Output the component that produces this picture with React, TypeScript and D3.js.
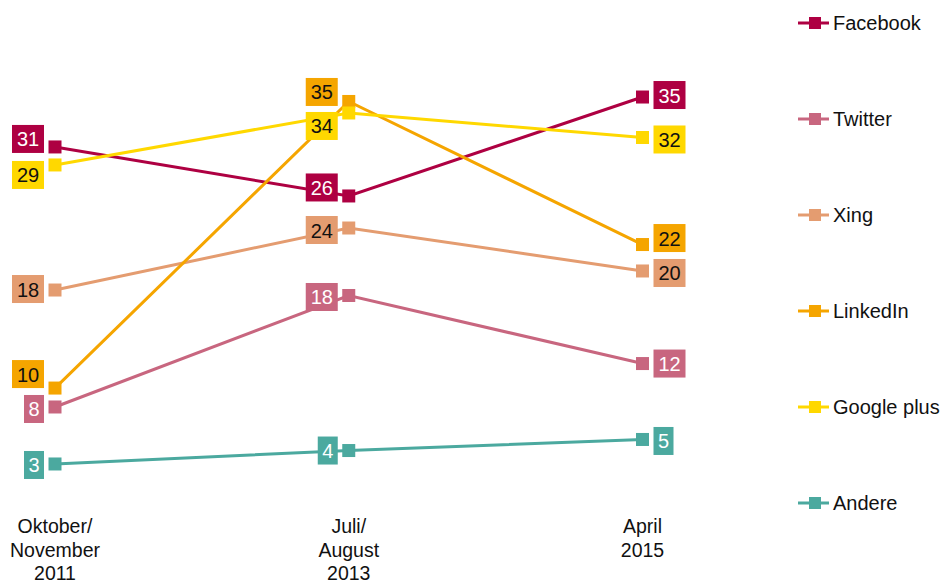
import React from "react";
import * as d3 from "d3";

const periods = ["Oktober/\nNovember\n2011", "Juli/\nAugust\n2013", "April\n2015"];
const seriesNames = ["Facebook", "Twitter", "Xing", "LinkedIn", "Google plus", "Andere"];
const facebook = [30.75, 26.45, 35.13];
const twitter = [7.94, 17.72, 11.75];
const xing = [18.2, 23.64, 19.87];
const linkedin = [9.6, 34.74, 22.19];
const googlePlus = [29.17, 33.73, 31.58];
const andere = [2.94, 4.12, 5.09];

const colors = ["#AE0042", "#C8667F", "#E49C70", "#F5A500", "#FFD800", "#4BA99F"];
const labelTextColors = ["#fff", "#fff", "#111", "#111", "#111", "#fff"];
// vertical nudges of the value labels (pixels), per series per period
const labelShift = [
  [-8, -8.5, -2],
  [2, 1.5, 0],
  [-1, 2, 2],
  [-14, -9.5, -6.5],
  [10, 13, 2],
  [1, 0, 1.5],
];

const allValues = [facebook, twitter, xing, linkedin, googlePlus, andere];

export default function App() {
  const width = 944;
  const height = 583;
  const x = d3.scalePoint<string>().domain(periods).range([55, 642.5]);
  const y = d3.scaleLinear().domain([0, 35]).range([497.5, 98.5]);
  const line = d3
    .line<number>()
    .x((_, i) => x(periods[i]) as number)
    .y((d) => y(d));
  const font = "'Liberation Sans', Arial, sans-serif";
  const ms = 13;
  const legendY = d3.scaleLinear().domain([0, 5]).range([23, 503]);

  return (
    <svg
      width={width}
      height={height}
      style={{ position: "absolute", left: 0, top: 0, background: "#fff" }}
      fontFamily={font}
    >
      {allValues.map((vals, s) => (
        <g key={s}>
          <path d={line(vals) || ""} fill="none" stroke={colors[s]} strokeWidth={3} />
          {vals.map((v, i) => {
            const cx = x(periods[i]) as number;
            const cy = y(v);
            return (
              <rect key={i} x={cx - ms / 2} y={cy - ms / 2} width={ms} height={ms} fill={colors[s]} />
            );
          })}
        </g>
      ))}
      {allValues.map((vals, s) => (
        <g key={"l" + s}>
          {vals.map((v, i) => {
            const cx = x(periods[i]) as number;
            const cy = y(v) + labelShift[s][i];
            const txt = String(Math.round(v));
            const w = txt.length === 1 ? 20 : 32;
            const left = i === 2 ? cx + 11 : cx - 11 - w;
            return (
              <g key={i}>
                <rect x={left} y={cy - 14} width={w} height={28} fill={colors[s]} />
                <text
                  x={left + w / 2}
                  y={cy + 7.5}
                  textAnchor="middle"
                  fontSize={20}
                  fill={labelTextColors[s]}
                >
                  {txt}
                </text>
              </g>
            );
          })}
        </g>
      ))}
      {periods.map((p) => (
        <text key={p} textAnchor="middle" fontSize={19.5} fill="#111">
          {p.split("\n").map((ln, j) => (
            <tspan key={j} x={x(p) as number} y={533 + j * 23.5}>
              {ln}
            </tspan>
          ))}
        </text>
      ))}
      {seriesNames.map((n, s) => {
        const ly = legendY(s);
        return (
          <g key={n}>
            <line x1={798} x2={829} y1={ly} y2={ly} stroke={colors[s]} strokeWidth={3} />
            <rect x={809} y={ly - 6} width={12} height={12} fill={colors[s]} />
            <text x={833} y={ly + 7} fontSize={20} fill="#111">
              {n}
            </text>
          </g>
        );
      })}
    </svg>
  );
}
